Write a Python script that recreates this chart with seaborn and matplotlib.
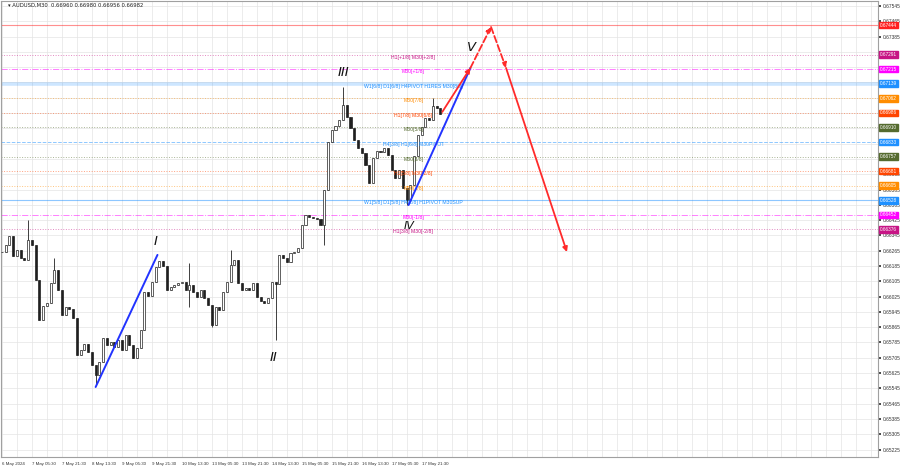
import numpy as np
import pandas as pd
import matplotlib
matplotlib.use("Agg")
import matplotlib.pyplot as plt
import matplotlib.transforms as mtransforms
from matplotlib.ticker import MultipleLocator
import seaborn as sns

# AUDUSD M30 closes, one value every 4 bars
closes = [0.66258, 0.66295, 0.66342, 0.66238, 0.66269, 0.66227, 0.66217, 0.66321, 0.66295, 0.66112,
          0.65903, 0.65976, 0.65992, 0.66096, 0.66164, 0.66060, 0.65929, 0.65971, 0.65960, 0.65913,
          0.65720, 0.65746, 0.65777, 0.65735, 0.65667, 0.65615, 0.65683, 0.65809, 0.65772, 0.65788,
          0.65761, 0.65798, 0.65746, 0.65824, 0.65772, 0.65704, 0.65756, 0.65851, 0.66049, 0.66028,
          0.66102, 0.66180, 0.66211, 0.66185, 0.66060, 0.66075, 0.66086, 0.66096, 0.66102, 0.66060,
          0.66086, 0.66049, 0.66023, 0.66060, 0.66018, 0.65981, 0.65877, 0.65971, 0.65955, 0.66049,
          0.66102, 0.66190, 0.66217, 0.66096, 0.66060, 0.66070, 0.66060, 0.66096, 0.66023, 0.66002,
          0.65992, 0.66018, 0.66102, 0.66090, 0.66243, 0.66227, 0.66206, 0.66253, 0.66258, 0.66279,
          0.66400, 0.66452, 0.66441, 0.66436, 0.66430, 0.66400, 0.66583, 0.66834, 0.66897, 0.66917,
          0.66949, 0.67027, 0.66965, 0.66907, 0.66844, 0.66802, 0.66776, 0.66713, 0.66619, 0.66750,
          0.66787, 0.66781, 0.66802, 0.66766, 0.66687, 0.66645, 0.66687, 0.66593, 0.66530, 0.66609,
          0.66760, 0.66870, 0.66912, 0.66959, 0.66949, 0.67022, 0.67012, 0.66982]
bar_step = 4
# long wicks that stick out of the bodies
wick_idx = [7, 14, 25, 50, 50, 56, 61, 73, 86, 91, 108, 115]
wick_price = [0.66426, 0.66227, 0.65563, 0.66201, 0.65971, 0.65866, 0.66269, 0.65798,
              0.66295, 0.67121, 0.66504, 0.67064]

# murrey / pivot levels
level_prices = [0.67444, 0.67291, 0.67215, 0.67139, 0.67062, 0.66986, 0.66910,
                0.66833, 0.66757, 0.66681, 0.66605, 0.66528, 0.66452, 0.66376]
level_colors = ["#ff2020", "#c71585", "#ff00ff", "#1e90ff", "#ff8c00", "#ff4500", "#556b2f",
                "#1e90ff", "#556b2f", "#ff4500", "#ff8c00", "#1e90ff", "#ff00ff", "#c71585"]
level_styles = ["-", ":", "-.", "-", ":", ":", ":", "--", ":", ":", ":", "-", "-.", ":"]
level_texts = ["", "H1[+1/8] M30[+2/8]", "M30[+1/8]", "W1[6/8] D1[6/8] H4PIVOT H1RES M30[8/8]",
               "M30[7/8]", "H1[7/8] M30[6/8]", "M30[5/8]", "H4[3/8] H1[6/8] M30PIVOT",
               "M30[3/8]", "H1[5/8] M30[2/8]", "M30[1/8]", "W1[5/8] D1[5/8] H4[2/8] H1PIVOT M30SUP",
               "M30[-1/8]", "H1[3/8] M30[-2/8]"]
level_text_bar = 439

# x axis labels, one every 32 bars
time_labels = ["6 May 2024", "7 May 05:30", "7 May 21:30", "8 May 13:30", "9 May 05:30",
               "9 May 21:30", "10 May 13:30", "13 May 05:30", "13 May 21:30", "14 May 13:30",
               "15 May 05:30", "15 May 21:30", "16 May 13:30", "17 May 05:30", "17 May 21:30"]

# elliott wave drawing (bar, price)
wave_blue = [([100, 166], [0.65552, 0.66243]), ([434, 500], [0.66504, 0.67221])]
wave_red = [((470, 0.66991), (500, 0.67221), "-"),
            ((500, 0.67221), (522, 0.67435), "--"),
            ((522, 0.67435), (538, 0.67221), "--"),
            ((538, 0.67221), (603, 0.66258), "-")]
wave_names = ["I", "II", "III", "IV", "V"]
wave_bars = [164, 290, 365, 435, 501]
wave_prices = [0.66311, 0.65709, 0.67195, 0.66392, 0.67328]
wave_sizes = [9.5, 9.5, 9.5, 8, 9.5]

price_ticks = np.round(np.arange(0.65225, 0.6756, 0.0008), 5)

sns.set_theme(style="white")
plt.rcParams['font.family'] = ['Liberation Sans', 'DejaVu Sans']

fig = plt.figure(figsize=(9, 4.68), dpi=100)
ax = fig.add_axes([1 / 900, 11 / 468, 877 / 900, 456 / 468])

# candles
df = pd.DataFrame({"close": closes})
df["bar"] = df.index * bar_step
df["open"] = df["close"].shift(1).fillna(df["close"].iloc[0])
df["high"] = df[["open", "close"]].max(axis=1)
df["low"] = df[["open", "close"]].min(axis=1)
for i, p in zip(wick_idx, wick_price):
    df.loc[i, "high"] = max(df.loc[i, "high"], p)
    df.loc[i, "low"] = min(df.loc[i, "low"], p)

ax.vlines(df["bar"], df["low"], df["high"], color="#202020", lw=0.6, zorder=3)
up = df["close"] >= df["open"]
ax.bar(df["bar"][up], (df["close"] - df["open"])[up], bottom=df["open"][up], width=2.2,
       color="white", edgecolor="#202020", linewidth=0.5, zorder=4)
ax.bar(df["bar"][~up], (df["close"] - df["open"])[~up], bottom=df["open"][~up], width=2.2,
       color="#202020", edgecolor="#202020", linewidth=0.5, zorder=4)

# levels
for p, c, ls, t in zip(level_prices, level_colors, level_styles, level_texts):
    if "W1[6/8]" in t:
        ax.axhline(p, color=c, lw=2.6, alpha=0.22, zorder=1)
    elif ls == "-":
        ax.axhline(p, color=c, lw=0.8, alpha=0.5, zorder=1)
    else:
        ax.axhline(p, color=c, lw=0.7, ls=ls, alpha=0.5, zorder=1)
    if t:
        ax.text(level_text_bar, p, t, color=c, fontsize=3.7, ha="center", va="top", zorder=5)

trans = mtransforms.blended_transform_factory(ax.transAxes, ax.transData)
for p, c in zip(level_prices, level_colors):
    ax.text(1.0025, p, f"{p:.5f}", transform=trans, color="white", fontsize=3.4,
            ha="left", va="center", clip_on=False, zorder=10,
            bbox=dict(boxstyle="square,pad=0.15", fc=c, ec=c))

# waves
for xs, ys in wave_blue:
    sns.lineplot(x=xs, y=ys, ax=ax, color="#2233ff", lw=1.4, zorder=6)
for (x0, y0), (x1, y1), ls in wave_red:
    ax.annotate("", xy=(x1, y1), xytext=(x0, y0),
                arrowprops=dict(arrowstyle="-|>", color="#ff2a2a", lw=1.3, ls=ls,
                                mutation_scale=7, shrinkA=0, shrinkB=0), zorder=6)
for n, b, p, fs in zip(wave_names, wave_bars, wave_prices, wave_sizes):
    ax.text(b, p, n, fontsize=fs, style="italic", color="#111111", ha="center", va="center",
            family="DejaVu Sans", zorder=7)

ax.set_xlim(-1, 935)
ax.set_ylim(0.65186, 0.67571)

ax.set_xticks(np.arange(len(time_labels)) * 32)
ax.set_xticklabels(time_labels, ha="left")
ax.xaxis.set_minor_locator(MultipleLocator(16))
# price ticks hidden under a level box are not printed
near = [min(abs(v - lp) for lp in level_prices) < 0.00015 for v in price_ticks]
ax.set_yticks(price_ticks)
ax.set_yticklabels(["" if n else f"{v:.5f}" for v, n in zip(price_ticks, near)])
ax.yaxis.tick_right()
ax.tick_params(axis="y", which="major", labelsize=3.5, length=2, pad=1.5, colors="#333333")
ax.tick_params(axis="x", which="major", labelsize=3.2, length=2, pad=1.5, colors="#333333")
ax.tick_params(axis="x", which="minor", length=0)
ax.grid(True, which="both", color="#e4e4e4", lw=0.5, zorder=0)
for s in ax.spines.values():
    s.set_color("#a0a0a0")
    s.set_linewidth(0.8)

ax.text(0.0075, 0.996, "\u25be AUDUSD,M30  0.66960 0.66980 0.66956 0.66982", transform=ax.transAxes,
        fontsize=3.8, ha="left", va="top", color="#222222", family=['DejaVu Sans'])

fig.savefig("out.png", dpi=100)
